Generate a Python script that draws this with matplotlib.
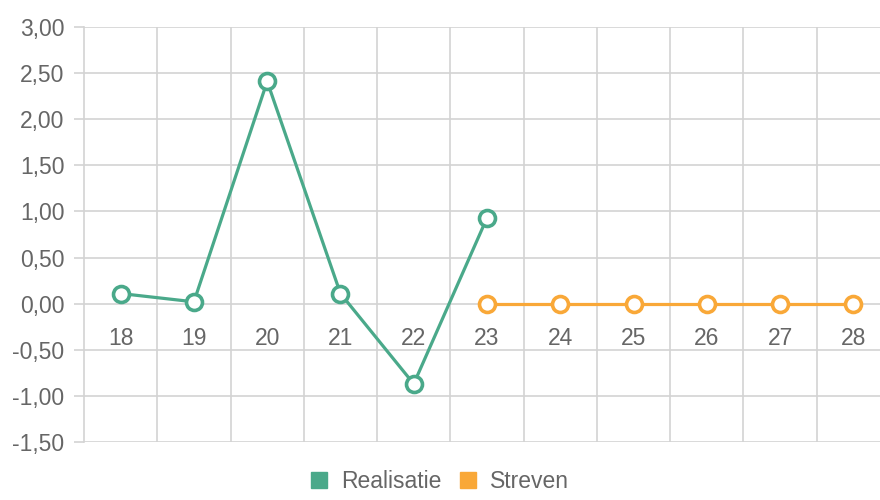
import matplotlib
matplotlib.use("Agg")
import matplotlib.pyplot as plt
from matplotlib.patches import Patch
from matplotlib.ticker import FuncFormatter

plt.rcParams['font.family'] = ['Liberation Sans', 'DejaVu Sans']

# data
weeks = [18, 19, 20, 21, 22, 23, 24, 25, 26, 27, 28]
realisatie_weeks = [18, 19, 20, 21, 22, 23]
realisatie = [0.11, 0.02, 2.41, 0.11, -0.87, 0.93]
streven_weeks = [23, 24, 25, 26, 27, 28]
streven = [0, 0, 0, 0, 0, 0]

green = '#4aa98a'
orange = '#f9a838'
grid = '#d3d3d3'
text = '#666666'

fig = plt.figure(figsize=(8.8, 5), dpi=100)
ax = fig.add_axes([84 / 880, 58 / 500, (890 - 84) / 880, 415 / 500])

ax.plot(realisatie_weeks, realisatie, color=green, lw=2.3, marker='o', ms=11.5,
        mfc='white', mec=green, mew=2.6, zorder=3, clip_on=False)
ax.plot(streven_weeks, streven, color=orange, lw=2.3, marker='o', ms=11.5,
        mfc='white', mec=orange, mew=2.6, zorder=3, clip_on=False)

ax.set_xlim(17.5, 28.5)
ax.set_ylim(-1.5, 3.0)
ax.set_yticks([-1.5 + 0.5 * i for i in range(10)])
ax.yaxis.set_major_formatter(FuncFormatter(lambda v, p: f"{v:.2f}".replace('.', ',')))
ax.set_xticks(weeks)
ax.set_xticks([w + 0.5 for w in weeks[:-1]], minor=True)

ax.grid(axis='y', which='major', color=grid, lw=1.2)
ax.grid(axis='x', which='minor', color=grid, lw=1.2)
ax.set_axisbelow(True)

for s in ['top', 'right']:
    ax.spines[s].set_visible(False)
ax.spines['left'].set_color(grid)
ax.spines['left'].set_linewidth(1.2)
ax.spines['bottom'].set_position(('data', 0))
ax.spines['bottom'].set_visible(False)

ax.tick_params(axis='y', colors=grid, length=7, width=1.2, labelcolor=text,
               labelsize=16.5, pad=7)
ax.tick_params(axis='x', which='both', length=0, labelcolor=text, labelsize=16.5, pad=17)

handles = [Patch(color=green, label='Realisatie'), Patch(color=orange, label='Streven')]
fig.legend(handles=handles, loc='lower center', ncol=2, frameon=False,
           bbox_to_anchor=(0.5, -0.028), fontsize=16.5, labelcolor=text,
           handlelength=0.7, handleheight=0.7, handletextpad=0.6, columnspacing=0.8)

fig.savefig('out.png', dpi=100)
